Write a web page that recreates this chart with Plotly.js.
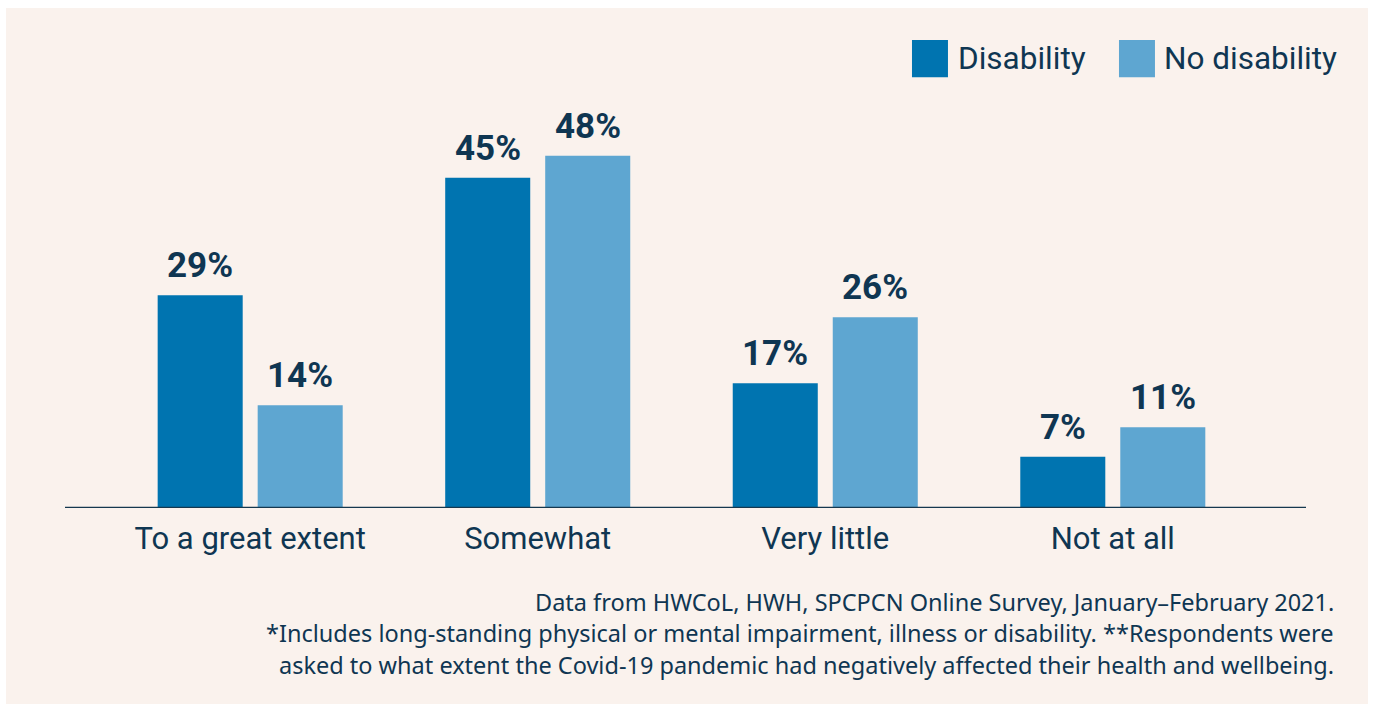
<!DOCTYPE html>
<html>
<head>
<meta charset="utf-8">
<script src="https://cdn.plot.ly/plotly-3.0.1.min.js"></script>
<style>
  html, body { margin: 0; padding: 0; background: #ffffff; width: 1375px; height: 704px; overflow: hidden; }
  #chart { position: absolute; left: 6px; top: 8px; width: 1362px; height: 696px; }
</style>
</head>
<body>
<div id="chart"></div>
<script>
// ---- data ----
const categories = ["To a great extent", "Somewhat", "Very little", "Not at all"];
const seriesNames = ["Disability", "No disability"];
const disability = [29, 45, 17, 7];
const noDisability = [14, 48, 26, 11];
const footnoteLines = [
  "Data from HWCoL, HWH, SPCPCN Online Survey, January\u2013February 2021.",
  "*Includes long-standing physical or mental impairment, illness or disability. **Respondents were",
  "asked to what extent the Covid-19 pandemic had negatively affected their health and wellbeing."
];

// ---- styles ----
const colors = ["#0074b0", "#5ea6d1"];
const textColor = "#0f3652";
const bg = "#faf2ed";
const barWidth = 0.2957;
const offsets = [-0.3217, 0.0261];
const seriesValues = [disability, noDisability];

const traces = seriesValues.map((vals, i) => ({
  type: "bar",
  name: seriesNames[i],
  x: categories,
  y: vals,
  width: barWidth,
  offset: offsets[i],
  marker: { color: colors[i], line: { width: 0 } },
  hoverinfo: "skip",
  showlegend: false
}));

const annotations = [];
seriesValues.forEach((vals, i) => {
  vals.forEach((v, j) => {
    annotations.push({
      x: j + offsets[i] + barWidth / 2,
      y: v,
      xref: "x", yref: "y",
      text: "<b>" + v + "%</b>",
      showarrow: false,
      xanchor: "center", yanchor: "bottom",
      yshift: 7,
      font: { family: "Roboto", size: 35, color: textColor }
    });
  });
});

// custom legend (large squares)
const shapes = [];
const legendSquares = [[0.6825, 0.7115], [0.8493, 0.8783]];
const legendTextX = [0.7180, 0.8840];
seriesNames.forEach((n, i) => {
  shapes.push({
    type: "rect", xref: "paper", yref: "paper",
    x0: legendSquares[i][0], x1: legendSquares[i][1],
    y0: 1.056, y1: 1.147,
    fillcolor: colors[i], line: { width: 0 }
  });
  annotations.push({
    x: legendTextX[i], y: 1.1005, xref: "paper", yref: "paper",
    text: n, showarrow: false, xanchor: "left", yanchor: "middle",
    font: { family: "Roboto", size: 31.5, color: textColor }
  });
});

// baseline
shapes.push({
  type: "line", xref: "paper", yref: "y",
  x0: 0, x1: 1, y0: 0, y1: 0,
  line: { color: "#15384f", width: 2.6 }
});

const footY = [-0.2304, -0.3064, -0.3848];
footnoteLines.forEach((t, i) => {
  annotations.push({
    x: 1.0242, y: footY[i], xref: "paper", yref: "paper",
    text: t, showarrow: false, xanchor: "right", yanchor: "middle",
    font: { family: "Noto Sans", size: 23.5, color: textColor }
  });
});

const layout = {
  width: 1362, height: 696,
  paper_bgcolor: bg, plot_bgcolor: bg,
  margin: { l: 59, r: 62, t: 92, b: 196, pad: 0 },
  barmode: "overlay",
  showlegend: false,
  xaxis: {
    type: "category",
    range: [-0.644, 3.672],
    showgrid: false, zeroline: false, showline: false,
    ticks: "",
    ticklabelstandoff: 9,
    tickfont: { family: "Roboto", size: 31, color: textColor },
    fixedrange: true
  },
  yaxis: {
    range: [0, 55.6],
    showgrid: false, zeroline: false, showline: false,
    showticklabels: false, ticks: "",
    fixedrange: true
  },
  shapes: shapes,
  annotations: annotations
};

Plotly.newPlot("chart", traces, layout, { displayModeBar: false, staticPlot: true });
</script>
</body>
</html>
